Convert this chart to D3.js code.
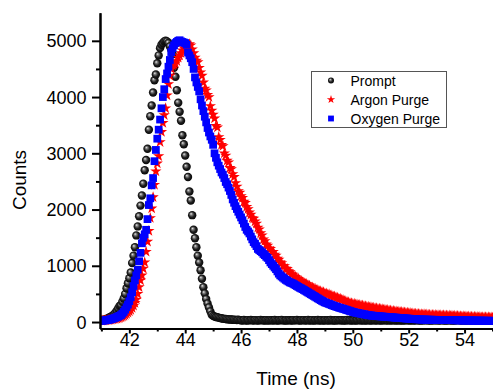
<!DOCTYPE html>
<html>
<head>
<meta charset="utf-8">
<script src="https://cdn.jsdelivr.net/npm/d3@7/dist/d3.min.js"></script>
<style>
  html, body { margin: 0; padding: 0; background: #fff; }
  svg { display: block; font-family: "Liberation Sans", Arial, sans-serif; }
</style>
</head>
<body>
<svg id="chart" width="493" height="392"></svg>
<script>
// Decay traces: time channels (ns) and counts per channel
const time = [
  41.00,41.05,41.10,41.15,41.20,41.25,41.30,41.35,41.40,41.45,41.50,41.55,41.60,41.65,41.70,41.75,41.80,41.85,41.90,41.95,
  42.00,42.05,42.10,42.15,42.20,42.25,42.30,42.35,42.40,42.45,42.50,42.55,42.60,42.65,42.70,42.75,42.80,42.85,42.90,42.95,
  43.00,43.05,43.10,43.15,43.20,43.25,43.30,43.35,43.40,43.45,43.50,43.55,43.60,43.65,43.70,43.75,43.80,43.85,43.90,43.95,
  44.00,44.05,44.10,44.15,44.20,44.25,44.30,44.35,44.40,44.45,44.50,44.55,44.60,44.65,44.70,44.75,44.80,44.85,44.90,44.95,
  45.00,45.05,45.10,45.15,45.20,45.25,45.30,45.35,45.40,45.45,45.50,45.55,45.60,45.65,45.70,45.75,45.80,45.85,45.90,45.95,
  46.00,46.05,46.10,46.15,46.20,46.25,46.30,46.35,46.40,46.45,46.50,46.55,46.60,46.65,46.70,46.75,46.80,46.85,46.90,46.95,
  47.00,47.05,47.10,47.15,47.20,47.25,47.30,47.35,47.40,47.45,47.50,47.55,47.60,47.65,47.70,47.75,47.80,47.85,47.90,47.95,
  48.00,48.05,48.10,48.15,48.20,48.25,48.30,48.35,48.40,48.45,48.50,48.55,48.60,48.65,48.70,48.75,48.80,48.85,48.90,48.95,
  49.00,49.05,49.10,49.15,49.20,49.25,49.30,49.35,49.40,49.45,49.50,49.55,49.60,49.65,49.70,49.75,49.80,49.85,49.90,49.95,
  50.00,50.05,50.10,50.15,50.20,50.25,50.30,50.35,50.40,50.45,50.50,50.55,50.60,50.65,50.70,50.75,50.80,50.85,50.90,50.95,
  51.00,51.05,51.10,51.15,51.20,51.25,51.30,51.35,51.40,51.45,51.50,51.55,51.60,51.65,51.70,51.75,51.80,51.85,51.90,51.95,
  52.00,52.05,52.10,52.15,52.20,52.25,52.30,52.35,52.40,52.45,52.50,52.55,52.60,52.65,52.70,52.75,52.80,52.85,52.90,52.95,
  53.00,53.05,53.10,53.15,53.20,53.25,53.30,53.35,53.40,53.45,53.50,53.55,53.60,53.65,53.70,53.75,53.80,53.85,53.90,53.95,
  54.00,54.05,54.10,54.15,54.20,54.25,54.30,54.35,54.40,54.45,54.50,54.55,54.60,54.65,54.70,54.75,54.80,54.85,54.90,54.95,
  55.00
];

const prompt = [
  28,35,42,50,60,72,85,98,112,135,165,200,240,285,300,360,420,500,600,690,
  780,880,1050,1180,1330,1540,1700,1880,2070,2250,2460,2700,2880,3080,3420,3660,3850,4080,4300,4400,
  4600,4740,4870,4930,4960,4990,5000,4990,4960,4900,4840,4760,4520,4360,4120,3900,3740,3580,3320,3160,
  2960,2760,2580,2320,2160,1900,1640,1490,1330,1180,1060,920,770,620,510,410,330,260,190,130,
  110,98,90,84,78,70,66,60,56,54,50,48,46,44,40,42,38,36,40,34,
  32,28,35,30,26,33,29,36,31,27,34,30,25,32,37,29,31,26,33,30,
  28,34,31,26,35,30,27,33,29,36,30,25,32,28,34,31,27,33,30,29,
  35,30,26,32,29,34,28,31,36,27,30,33,25,31,29,35,28,32,30,26,
  33,29,31,27,35,30,28,32,26,34,29,31,33,27,30,28,35,29,31,26,
  30,33,27,31,29,34,28,30,32,26,31,29,33,27,30,35,28,31,29,32,
  27,30,33,29,31,26,34,28,30,32,29,27,31,33,28,30,26,32,29,31,
  30,28,33,29,26,31,34,28,30,27,32,29,31,35,28,30,26,33,29,31,
  29,32,27,30,34,28,31,26,33,29,30,28,32,27,31,34,29,30,26,32,
  30,27,33,29,31,28,34,30,26,32,29,31,27,33,30,28,32,29,31,27,
  30
];

const argon = [
  24,26,28,30,32,35,38,42,46,50,55,60,66,74,84,95,108,124,142,165,
  190,215,250,290,340,400,500,620,740,830,950,1060,1250,1430,1620,1850,2020,2220,2440,2680,
  2820,2950,3200,3380,3540,3680,3800,4030,4230,4380,4500,4560,4580,4600,4640,4700,4740,4780,4830,4870,
  4900,4920,4930,4940,4920,4850,4780,4700,4650,4620,4520,4440,4380,4260,4150,4120,4040,4000,3840,3760,
  3690,3620,3490,3460,3290,3240,3150,3130,3000,2960,2870,2840,2740,2720,2630,2580,2470,2410,2330,2300,
  2240,2210,2140,2120,2050,2010,1950,1910,1850,1840,1790,1750,1680,1650,1580,1540,1470,1440,1380,1360,
  1310,1300,1250,1250,1200,1180,1130,1110,1060,1050,1000,995,950,945,900,890,850,845,810,805,
  775,768,740,732,705,700,676,675,650,646,620,615,596,592,570,570,550,550,530,530,
  510,510,492,493,472,472,452,455,435,434,415,414,396,393,374,371,354,351,336,335,
  321,324,311,314,301,304,290,293,280,283,270,273,261,263,251,253,242,245,234,237,
  226,230,218,221,210,213,202,205,194,197,186,190,180,184,174,178,168,172,162,166,
  156,160,150,154,144,149,140,145,136,141,132,137,128,133,125,130,121,127,119,125,
  117,123,115,121,113,119,111,117,109,115,107,113,105,111,103,108,99,105,96,102,
  94,100,91,97,89,95,87,93,85,91,83,89,81,87,79,85,78,84,77,83,
  78
];

const oxygen = [
  22,25,28,30,34,38,44,50,58,66,76,86,98,110,124,150,180,220,262,310,
  370,440,530,640,740,830,930,1080,1230,1400,1500,1560,1640,1830,2080,2200,2430,2560,2860,3060,
  3260,3420,3600,3800,4000,4140,4320,4420,4540,4660,4800,4870,4920,4960,4980,5000,5010,4990,4980,4970,
  4960,4930,4790,4740,4690,4620,4500,4350,4260,4180,4100,3960,3850,3750,3650,3550,3450,3370,3300,3240,
  3150,3000,2920,2840,2780,2720,2660,2620,2560,2490,2450,2390,2330,2260,2180,2120,2060,2010,1960,1910,
  1860,1810,1750,1690,1640,1610,1575,1520,1470,1420,1390,1350,1300,1280,1260,1240,1210,1190,1160,1140,
  1100,1060,1030,1000,970,940,900,860,830,810,790,770,750,735,720,705,695,685,670,655,
  640,625,610,598,585,570,555,540,525,510,495,480,465,450,435,420,405,390,375,362,
  350,340,332,322,312,302,292,283,275,266,258,250,243,236,228,220,212,204,196,188,
  180,174,168,163,158,153,148,143,138,133,128,124,120,117,114,111,108,106,104,102,
  100,98,96,94,92,90,88,86,84,82,80,78,76,74,72,70,68,66,64,62,
  60,58,56,54,52,50,49,48,47,46,45,44,43,42,42,41,41,40,40,39,
  39,38,38,37,37,36,36,35,35,34,34,33,33,32,32,31,31,30,30,30,
  29,29,28,28,28,27,27,26,26,26,25,25,25,24,24,24,23,23,23,22,
  22
];

const seriesNames = ["Prompt", "Argon Purge", "Oxygen Purge"];
const xMajorTicks = [42, 44, 46, 48, 50, 52, 54];
const xMinorTicks = [41, 43, 45, 47, 49, 51, 53, 55];
const yMajorTicks = [0, 1000, 2000, 3000, 4000, 5000];
const yMinorTicks = [500, 1500, 2500, 3500, 4500];
const xTitle = "Time (ns)";
const yTitle = "Counts";

const svg = d3.select("#chart");
const x = d3.scaleLinear().domain([40.95, 55]).range([100, 492.5]);
const y = d3.scaleLinear().domain([-115, 5500]).range([328.5, 12.7]);

// shaded sphere for the prompt markers
const defs = svg.append("defs");
const grad = defs.append("radialGradient").attr("id", "sphere")
  .attr("cx", "50%").attr("cy", "50%").attr("r", "55%")
  .attr("fx", "35%").attr("fy", "32%");
grad.append("stop").attr("offset", "0%").attr("stop-color", "#f2f2f2");
grad.append("stop").attr("offset", "25%").attr("stop-color", "#808080");
grad.append("stop").attr("offset", "58%").attr("stop-color", "#202020");
grad.append("stop").attr("offset", "100%").attr("stop-color", "#000");
defs.append("clipPath").attr("id", "plotClip")
  .append("rect").attr("x", 100).attr("y", 0).attr("width", 393).attr("height", 392);

const rows = (vals) => time.map((t, i) => ({ t, c: vals[i] }));
const plot = svg.append("g").attr("clip-path", "url(#plotClip)");

// Prompt: shaded spheres
plot.append("g").selectAll("circle").data(rows(prompt)).join("circle")
  .attr("cx", d => x(d.t)).attr("cy", d => y(d.c)).attr("r", 4.2)
  .attr("fill", "url(#sphere)");

// Argon purge: red stars
const star = d3.symbol().type(d3.symbolStar).size(40);
plot.append("g").selectAll("path").data(rows(argon)).join("path")
  .attr("d", star)
  .attr("transform", d => `translate(${x(d.t)},${y(d.c)})`)
  .attr("fill", "#ff0000");

// Oxygen purge: blue squares
const square = d3.symbol().type(d3.symbolSquare).size(60);
plot.append("g").selectAll("path").data(rows(oxygen)).join("path")
  .attr("d", square)
  .attr("transform", d => `translate(${x(d.t)},${y(d.c)})`)
  .attr("fill", "#0000ff");

// Axes
function styleAxis(g) {
  g.select(".domain").attr("stroke", "#000").attr("stroke-width", 2);
  g.selectAll(".tick line").attr("stroke", "#000").attr("stroke-width", 2);
}
const xAxisG = svg.append("g").attr("transform", "translate(0,328.5)");
xAxisG.append("g").call(d3.axisBottom(x).tickValues(xMinorTicks).tickSize(3).tickSizeOuter(0).tickFormat(""))
  .call(styleAxis);
xAxisG.append("g").call(d3.axisBottom(x).tickValues(xMajorTicks).tickSize(5).tickSizeOuter(0).tickFormat(d3.format("d")))
  .call(styleAxis)
  .call(g => g.selectAll("text").attr("y", 17.2).attr("dy", 0)
    .attr("font-size", 18).attr("fill", "#000").attr("font-family", "Liberation Sans, Arial, sans-serif"));

const yAxisG = svg.append("g").attr("transform", "translate(100,0)");
yAxisG.append("g").call(d3.axisLeft(y).tickValues(yMinorTicks).tickSize(4).tickSizeOuter(0).tickFormat(""))
  .call(styleAxis);
yAxisG.append("g").call(d3.axisLeft(y).tickValues(yMajorTicks).tickSize(8).tickSizeOuter(0).tickFormat(d3.format("d")))
  .call(styleAxis)
  .call(g => g.selectAll("text").attr("x", -13.5).attr("dy", "0.34em")
    .attr("font-size", 18).attr("fill", "#000").attr("font-family", "Liberation Sans, Arial, sans-serif"));

// Axis titles
svg.append("text").attr("x", 296).attr("y", 384.5).attr("text-anchor", "middle")
  .attr("font-size", 19).text(xTitle);
svg.append("text").attr("transform", "translate(25.5,180) rotate(-90)").attr("text-anchor", "middle")
  .attr("font-size", 19).text(yTitle);

// Legend
const legend = svg.append("g");
legend.append("rect").attr("x", 311.5).attr("y", 71.5).attr("width", 135).attr("height", 56)
  .attr("fill", "#fff").attr("stroke", "#555").attr("stroke-width", 1);
const rowY = [80.5, 99.5, 118.5];
legend.append("circle").attr("cx", 331).attr("cy", rowY[0]).attr("r", 3).attr("fill", "url(#sphere)");
legend.append("path").attr("d", d3.symbol().type(d3.symbolStar).size(22))
  .attr("transform", `translate(331,${rowY[1]})`).attr("fill", "#ff0000");
legend.append("path").attr("d", d3.symbol().type(d3.symbolSquare).size(34))
  .attr("transform", `translate(331,${rowY[2]})`).attr("fill", "#0000ff");
legend.selectAll("text.lbl").data(seriesNames).join("text").attr("class", "lbl")
  .attr("x", 350.5).attr("y", (d, i) => rowY[i] + 5).attr("font-size", 14).attr("fill", "#000")
  .text(d => d);
</script>
</body>
</html>
